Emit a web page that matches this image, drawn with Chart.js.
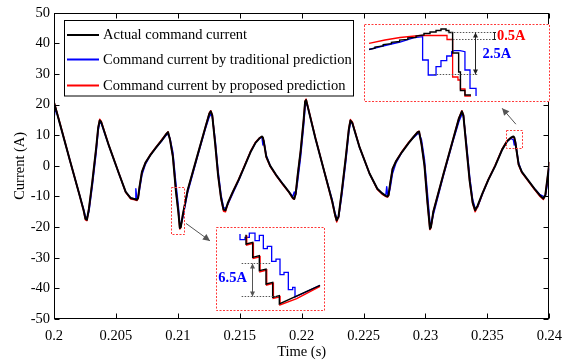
<!DOCTYPE html>
<html><head><meta charset="utf-8">
<script src="https://cdn.jsdelivr.net/npm/chart.js@4.4.1/dist/chart.umd.min.js"></script>
<style>
html,body{margin:0;padding:0;background:#fff;}
#wrap{position:relative;width:570px;height:364px;overflow:hidden;}
#main{position:absolute;left:0;top:0;}
.inset{position:absolute;}
</style></head><body>
<div id="wrap"><canvas id="main" width="570" height="364"></canvas><canvas id="ins1" class="inset"></canvas><canvas id="ins2" class="inset"></canvas></div>
<script>
// ---------- data (main plot) ----------
const time = [
0.20000,0.20012,0.20048,0.20127,0.20206,0.20238,0.20254,0.20266,0.20282,0.20310,
0.20341,0.20357,0.20369,0.20381,0.20444,0.20524,0.20579,0.20619,0.20655,0.20661,
0.20669,0.20679,0.20690,0.20710,0.20738,0.20778,0.20825,0.20873,0.20905,0.20921,
0.20937,0.20960,0.20984,0.21004,0.21016,0.21024,0.21040,0.21079,0.21159,0.21222,
0.21254,0.21266,0.21278,0.21302,0.21325,0.21349,0.21369,0.21385,0.21405,0.21444,
0.21492,0.21540,0.21587,0.21627,0.21659,0.21679,0.21687,0.21694,0.21714,0.21746,
0.21794,0.21849,0.21897,0.21929,0.21940,0.21952,0.21968,0.21992,0.22016,0.22028,
0.22036,0.22048,0.22111,0.22190,0.22246,0.22270,0.22283,0.22298,0.22325,0.22357,
0.22381,0.22394,0.22409,0.22468,0.22548,0.22611,0.22651,0.22679,0.22687,0.22694,
0.22702,0.22714,0.22734,0.22762,0.22810,0.22865,0.22905,0.22937,0.22948,0.22968,
0.22992,0.23016,0.23036,0.23044,0.23063,0.23143,0.23222,0.23270,0.23294,0.23306,
0.23333,0.23357,0.23381,0.23401,0.23421,0.23460,0.23508,0.23563,0.23619,0.23659,
0.23690,0.23710,0.23717,0.23725,0.23752,0.23778,0.23825,0.23881,0.23921,0.23952,
0.23968,0.23988,0.24000];
const actual = [
20.7,19.0,13.7,2.0,-9.5,-14.3,-17.3,-17.6,-14.0,-5.0,
6.0,12.5,14.8,14.3,6.5,-2.5,-8.5,-10.5,-10.9,-11.0,
-11.1,-10.5,-7.0,-2.0,1.0,3.5,6.0,8.5,10.3,11.0,
8.5,3.0,-8.0,-15.0,-20.3,-20.0,-16.0,-8.0,3.5,12.5,
17.0,17.8,16.5,7.0,-3.0,-10.5,-14.3,-14.5,-12.0,-8.5,
-4.5,0.0,4.5,7.5,9.0,9.6,9.2,8.0,3.0,0.0,
-3.0,-6.0,-8.5,-10.5,-10.8,-9.0,-3.0,5.0,15.0,21.0,
21.5,19.5,9.0,-3.0,-11.5,-16.0,-17.8,-16.5,-8.0,3.0,
12.0,14.8,14.0,6.0,-2.5,-7.5,-9.0,-9.8,-9.9,-10.0,
-9.5,-6.0,-1.0,1.5,4.5,7.5,9.5,11.0,11.2,7.0,
0.0,-12.0,-20.5,-20.0,-15.0,-3.0,8.5,15.5,17.8,16.5,
5.0,-5.0,-12.0,-14.5,-13.0,-9.0,-4.5,0.0,5.3,8.0,
9.2,9.6,9.3,7.8,0.5,-2.0,-4.5,-7.5,-9.5,-10.7,
-9.5,-3.0,1.0];
const traditional = [
15.5,19.0,13.7,2.0,-9.5,-14.0,-16.5,-17.0,-15.0,-6.5,
4.5,11.5,14.0,14.0,6.5,-2.5,-8.5,-10.5,-10.9,-7.5,
-10.8,-10.5,-8.0,-3.0,0.5,3.5,6.0,8.3,10.0,10.3,
9.0,4.5,-5.5,-13.0,-19.0,-19.5,-17.0,-8.8,3.0,12.0,
16.0,16.8,16.3,8.5,-1.5,-9.5,-13.5,-14.0,-12.5,-9.0,
-4.8,0.0,4.5,7.5,9.0,9.4,6.8,8.2,3.5,0.0,
-3.0,-6.0,-8.5,-10.0,-8.5,-9.5,-5.0,3.0,13.0,19.0,
20.5,19.5,9.0,-3.0,-11.0,-15.5,-17.0,-17.0,-9.5,1.5,
11.0,14.0,14.0,6.0,-2.5,-7.5,-9.0,-9.8,-6.8,-9.5,
-9.5,-7.5,-2.5,1.0,4.5,7.5,9.3,10.5,10.6,8.5,
2.0,-9.0,-18.5,-19.8,-16.0,-3.5,8.0,14.5,16.8,16.5,
6.5,-3.5,-11.0,-13.8,-13.5,-9.3,-4.5,0.0,5.3,8.0,
9.0,8.5,6.8,8.3,1.0,-2.0,-4.5,-7.5,-9.3,-10.0,
-10.0,-5.0,-1.0];
const proposed = [
20.9,19.2,13.9,2.0,-9.5,-14.5,-17.6,-17.9,-14.0,-5.0,
6.0,12.5,15.2,14.6,6.6,-2.4,-8.6,-10.8,-11.1,-11.2,
-11.3,-10.7,-7.0,-2.0,1.0,3.7,6.2,8.7,10.4,11.1,
8.5,3.0,-8.0,-15.0,-20.6,-20.2,-16.0,-8.0,3.5,12.5,
17.2,18.0,16.7,7.0,-3.0,-10.7,-14.8,-15.0,-12.2,-8.5,
-4.3,0.2,4.7,7.7,9.1,9.5,9.2,8.0,2.8,-0.2,
-3.2,-6.2,-8.6,-10.7,-10.9,-9.0,-3.0,5.0,15.0,21.2,
21.8,19.7,9.2,-3.0,-11.7,-16.3,-18.3,-16.7,-8.0,3.0,
12.2,15.1,14.3,6.1,-2.5,-7.7,-9.3,-10.0,-10.1,-10.2,
-9.7,-6.0,-1.0,1.5,4.7,7.7,9.6,11.1,11.3,7.0,
0.0,-12.0,-20.8,-20.2,-15.0,-3.0,8.5,15.6,18.0,16.7,
5.0,-5.0,-12.3,-15.0,-13.3,-9.0,-4.4,0.2,5.5,8.2,
9.2,9.4,9.2,7.8,0.3,-2.2,-4.7,-7.7,-9.8,-11.0,
-9.5,-3.0,1.0];

const xTicks = [0.2,0.205,0.21,0.215,0.22,0.225,0.23,0.235,0.24];
const xTickLabels = ['0.2','0.205','0.21','0.215','0.22','0.225','0.23','0.235','0.24'];
const yTicks = [-50,-40,-30,-20,-10,0,10,20,30,40,50];
const yTickLabels = ['-50','-40','-30','-20','-10','0','10','20','30','40','50'];
const seriesNames = ['Actual command current','Command current by traditional prediction','Command current by proposed prediction'];
const xTitle = 'Time (s)';
const yTitle = 'Current (A)';

// ---------- data (zoom insets) ----------
// inset 1: time offset (µs from 236.5 ms), current (A)
const ins1ActualX = [37,80,80,140,140,200,200,260,260,320,320,380,380,438,438,482,482,526,526,562,562,599,599,620,620,647,647,691,691,704,704,737,737,781];
const ins1ActualY = [8.48,8.55,8.62,8.68,8.76,8.82,8.90,8.95,9.03,9.08,9.16,9.20,9.28,9.34,9.43,9.43,9.52,9.52,9.61,9.61,9.70,9.70,9.61,9.61,9.49,9.49,8.26,8.26,7.12,7.12,6.01,6.01,5.74,5.74];
const ins1TradX = [37,153,263,372,428,428,469,469,526,526,562,562,604,604,640,640,659,701,737,737,774,774,818,818];
const ins1TradY = [8.47,8.71,8.92,9.19,9.24,7.84,7.84,6.94,6.94,7.44,7.44,7.80,7.80,8.08,8.08,8.34,8.40,8.40,8.34,7.24,7.24,6.14,6.14,5.68];
const ins1PropX = [37,153,263,409,606,606,647,647,686,686,704,704,737,737,781];
const ins1PropY = [8.84,9.04,9.19,9.31,9.31,9.07,9.07,6.82,6.82,6.64,6.64,6.10,6.10,5.68,5.68];
// inset 2: time offset (µs from 209.7 ms), current (A)
const ins2ActualX = [225,225,275,275,325,325,375,375,425,425,475,475,780];
const ins2ActualY = [-6.80,-8.62,-8.30,-11.22,-10.90,-13.82,-13.50,-16.42,-16.10,-19.02,-18.70,-20.32,-16.68];
const ins2TradX = [180,180,217.5,217.5,250,250,292.5,292.5,325,325,355,355,385,385,417.5,417.5,450,450,480,480,510,510,542.5,542.5,575,575,592.5,592.5,780];
const ins2TradY = [-6.67,-7.78,-7.78,-7.32,-7.32,-6.48,-6.48,-7.97,-7.97,-6.93,-6.93,-9.53,-9.53,-9.08,-9.08,-12.0,-12.0,-11.55,-11.55,-14.6,-14.6,-14.15,-14.15,-17.53,-17.53,-17.07,-17.07,-18.96,-16.68];
const ins2PropX = [230,230,280,280,330,330,380,380,430,430,480,480,605,780];
const ins2PropY = [-6.93,-8.82,-8.49,-11.42,-11.09,-14.02,-13.69,-16.62,-16.29,-19.22,-18.89,-20.52,-19.28,-16.88];
const ins1Labels = ['0.5A','2.5A'];
const ins2Labels = ['6.5A'];

// ---------- drawing ----------
const FONT = '"Liberation Serif","Times New Roman",Times,serif';
const BLACK = '#000000', BLUE = '#0000ff', RED = '#ff0000';
const pts = (xs, ys) => xs.map((v, i) => ({x: v, y: ys[i]}));

function arrowHead(ctx, x1, y1, x2, y2, len, half) {
  const a = Math.atan2(y2 - y1, x2 - x1);
  ctx.beginPath();
  ctx.moveTo(x2, y2);
  ctx.lineTo(x2 - len * Math.cos(a) + half * Math.sin(a), y2 - len * Math.sin(a) - half * Math.cos(a));
  ctx.lineTo(x2 - len * Math.cos(a) - half * Math.sin(a), y2 - len * Math.sin(a) + half * Math.cos(a));
  ctx.closePath();
  ctx.fill();
}
function arrow(ctx, x1, y1, x2, y2, color, len, half, both) {
  ctx.save();
  ctx.strokeStyle = color; ctx.fillStyle = color; ctx.lineWidth = 1;
  ctx.beginPath(); ctx.moveTo(x1, y1); ctx.lineTo(x2, y2); ctx.stroke();
  arrowHead(ctx, x1, y1, x2, y2, len, half);
  if (both) arrowHead(ctx, x2, y2, x1, y1, len, half);
  ctx.restore();
}
function dotted(ctx, x1, y1, x2, y2, color) {
  ctx.save(); ctx.strokeStyle = color; ctx.lineWidth = 1; ctx.setLineDash([1.5, 1.5]);
  ctx.beginPath(); ctx.moveTo(x1, y1); ctx.lineTo(x2, y2); ctx.stroke(); ctx.restore();
}

const framePlugin = {
  id: 'frame',
  afterDraw(chart) {
    const {ctx, chartArea: a} = chart;
    const x = chart.scales.x, y = chart.scales.y;
    ctx.save();
    const L = Math.round(a.left) + 0.5, R = Math.round(a.right) - 0.5;
    const T = Math.round(a.top) + 0.5, B = Math.round(a.bottom) - 0.5;
    ctx.strokeStyle = '#000'; ctx.lineWidth = 1;
    ctx.strokeRect(L, T, R - L, B - T);
    ctx.beginPath();
    xTicks.forEach(v => { const p = Math.round(x.getPixelForValue(v)) + 0.5; ctx.moveTo(p, B); ctx.lineTo(p, B - 5); ctx.moveTo(p, T); ctx.lineTo(p, T + 5); });
    yTicks.forEach(v => { const p = Math.round(y.getPixelForValue(v)) + 0.5; ctx.moveTo(L, p); ctx.lineTo(L + 5, p); ctx.moveTo(R, p); ctx.lineTo(R - 5, p); });
    ctx.stroke();
    // axis titles
    ctx.fillStyle = '#000'; ctx.font = '14.5px ' + FONT; ctx.textAlign = 'center'; ctx.textBaseline = 'middle';
    ctx.fillText(xTitle, (a.left + a.right) / 2, 352);
    ctx.save(); ctx.translate(20, (a.top + a.bottom) / 2); ctx.rotate(-Math.PI / 2); ctx.fillText(yTitle, 0, 0); ctx.restore();
    // small zoom boxes
    ctx.save(); ctx.strokeStyle = '#ff3a3a'; ctx.lineWidth = 1; ctx.setLineDash([2, 1.5]);
    const bx = [[0.20946, 0.21046, -7.0, -22.3], [0.23651, 0.23783, 11.8, 5.8]];
    bx.forEach(b => {
      const x1 = Math.round(x.getPixelForValue(b[0])) + 0.5, x2 = Math.round(x.getPixelForValue(b[1])) + 0.5;
      const y1 = Math.round(y.getPixelForValue(b[2])) + 0.5, y2 = Math.round(y.getPixelForValue(b[3])) + 0.5;
      ctx.strokeRect(x1, y1, x2 - x1, y2 - y1);
    });
    ctx.restore();
    // pointer arrows
    arrow(ctx, x.getPixelForValue(0.21066), y.getPixelForValue(-18.8), x.getPixelForValue(0.21260), y.getPixelForValue(-24.5), '#555', 7, 3.5, false);
    arrow(ctx, x.getPixelForValue(0.23730), y.getPixelForValue(13.6), x.getPixelForValue(0.23619), y.getPixelForValue(18.8), '#555', 7, 3.5, false);
    // legend
    const lx = 64.5, ly = 20.5, lw = 289, lh = 75.5;
    ctx.fillStyle = '#fff'; ctx.fillRect(lx, ly, lw, lh);
    ctx.strokeStyle = '#000'; ctx.lineWidth = 1; ctx.strokeRect(lx, ly, lw, lh);
    const rows = [35, 59.5, 85.5], cols = [BLACK, BLUE, RED];
    ctx.font = '14.5px ' + FONT; ctx.textAlign = 'left'; ctx.textBaseline = 'middle';
    rows.forEach((ry, i) => {
      ctx.strokeStyle = cols[i]; ctx.lineWidth = 2;
      ctx.beginPath(); ctx.moveTo(67, ry); ctx.lineTo(99, ry); ctx.stroke();
      ctx.fillStyle = '#000'; ctx.fillText(seriesNames[i], 103, ry + 0.5);
    });
    ctx.restore();
  }
};

new Chart(document.getElementById('main'), {
  type: 'line',
  data: { datasets: [
    { label: seriesNames[0], data: pts(time, actual), borderColor: BLACK, borderWidth: 2, order: 0 },
    { label: seriesNames[1], data: pts(time, traditional), borderColor: BLUE, borderWidth: 1.4, order: 2 },
    { label: seriesNames[2], data: pts(time, proposed), borderColor: RED, borderWidth: 1.5, order: 1 }
  ]},
  options: {
    responsive: false, animation: false, devicePixelRatio: 1, events: [],
    elements: { point: { radius: 0 }, line: { tension: 0, borderJoinStyle: 'round', borderCapStyle: 'round' } },
    layout: { padding: { top: 12, right: 12, left: 0, bottom: 0 } },
    plugins: { legend: { display: false }, tooltip: { enabled: false } },
    scales: {
      x: { type: 'linear', min: 0.2, max: 0.24,
        afterBuildTicks: s => { s.ticks = xTicks.map(v => ({ value: v })); },
        afterFit: s => { s.height = 45; },
        grid: { display: false, drawTicks: false }, border: { display: false },
        ticks: { callback: v => xTickLabels[xTicks.indexOf(v)], font: { family: FONT, size: 14.5 }, color: '#000', padding: 8, maxRotation: 0, autoSkip: false }
      },
      y: { type: 'linear', min: -50, max: 50,
        afterBuildTicks: s => { s.ticks = yTicks.map(v => ({ value: v })); },
        afterFit: s => { s.width = 54; },
        grid: { display: false, drawTicks: false }, border: { display: false },
        ticks: { callback: v => yTickLabels[yTicks.indexOf(v)], font: { family: FONT, size: 14.5 }, color: '#000', padding: 4, autoSkip: false }
      }
    }
  },
  plugins: [framePlugin]
});

function makeInset(id, box, xr, yr, series, annotate) {
  const cv = document.getElementById(id);
  cv.width = box.w; cv.height = box.h; cv.style.left = box.x + 'px'; cv.style.top = box.y + 'px';
  return new Chart(cv, {
    type: 'line',
    data: { datasets: series.map(s => ({ data: pts(s.x, s.y), borderColor: s.color, borderWidth: s.w, order: s.order, pointRadius: 0, tension: 0 })) },
    options: {
      responsive: false, animation: false, devicePixelRatio: 1, events: [],
      layout: { padding: 0 },
      plugins: { legend: { display: false }, tooltip: { enabled: false } },
      scales: { x: { type: 'linear', display: false, min: xr[0], max: xr[1] }, y: { type: 'linear', display: false, min: yr[0], max: yr[1] } }
    },
    plugins: [{
      id: 'insetDeco',
      beforeDraw(c) { c.ctx.save(); c.ctx.fillStyle = '#fff'; c.ctx.fillRect(0, 0, c.width, c.height); c.ctx.restore(); },
      afterDraw(c) {
        const ctx = c.ctx; ctx.save();
        annotate(c, ctx, c.scales.x, c.scales.y);
        ctx.strokeStyle = '#ff3a3a'; ctx.lineWidth = 1; ctx.setLineDash([2, 1.5]);
        ctx.strokeRect(0.5, 0.5, c.width - 1, c.height - 1);
        ctx.restore();
      }
    }]
  });
}

makeInset('ins1', { x: 364, y: 24, w: 186, h: 78 }, [0, 1358], [5.32, 10], [
  { x: ins1TradX, y: ins1TradY, color: BLUE, w: 1.3, order: 2 },
  { x: ins1PropX, y: ins1PropY, color: RED, w: 1.3, order: 1 },
  { x: ins1ActualX, y: ins1ActualY, color: BLACK, w: 1.4, order: 0 }
], (c, ctx, X, Y) => {
  const px = v => X.getPixelForValue(v), py = v => Math.round(Y.getPixelForValue(v)) + 0.5;
  dotted(ctx, px(612), py(9.50), px(956), py(9.50), '#555');
  dotted(ctx, px(628), py(9.10), px(956), py(9.10), '#555');
  dotted(ctx, px(509), py(7.00), px(832), py(7.00), '#555');
  arrow(ctx, Math.round(px(813)) + 0.5, py(9.50), Math.round(px(813)) + 0.5, py(7.00), '#222', 5, 2.5, true);
  const mx = Math.round(px(946)) + 0.5;
  ctx.strokeStyle = '#222'; ctx.lineWidth = 1; ctx.beginPath();
  ctx.moveTo(mx, py(9.50)); ctx.lineTo(mx, py(9.10));
  ctx.moveTo(mx - 1.5, py(9.50)); ctx.lineTo(mx + 1.5, py(9.50));
  ctx.moveTo(mx - 1.5, py(9.10)); ctx.lineTo(mx + 1.5, py(9.10)); ctx.stroke();
  ctx.font = 'bold 14.5px ' + FONT; ctx.textAlign = 'left'; ctx.textBaseline = 'middle';
  ctx.fillStyle = RED; ctx.fillText(ins1Labels[0], px(971), Y.getPixelForValue(9.24));
  ctx.fillStyle = BLUE; ctx.fillText(ins1Labels[1], px(866), Y.getPixelForValue(8.18));
});

makeInset('ins2', { x: 216, y: 227, w: 109, h: 84 }, [0, 817.5], [-21.685, -5.305], [
  { x: ins2TradX, y: ins2TradY, color: BLUE, w: 1.3, order: 2 },
  { x: ins2PropX, y: ins2PropY, color: RED, w: 1.5, order: 1 },
  { x: ins2ActualX, y: ins2ActualY, color: BLACK, w: 1.4, order: 0 }
], (c, ctx, X, Y) => {
  const px = v => X.getPixelForValue(v), py = v => Math.round(Y.getPixelForValue(v)) + 0.5;
  dotted(ctx, px(192.5), py(-12.33), px(417.5), py(-12.33), '#555');
  dotted(ctx, px(192.5), py(-18.83), px(467.5), py(-18.83), '#555');
  arrow(ctx, Math.round(px(267.5)) + 0.5, py(-12.33), Math.round(px(267.5)) + 0.5, py(-18.83), '#555', 5, 2.5, true);
  ctx.font = 'bold 14.5px ' + FONT; ctx.textAlign = 'right'; ctx.textBaseline = 'middle';
  ctx.fillStyle = BLUE; ctx.fillText(ins2Labels[0], px(232), Y.getPixelForValue(-15.25));
});
</script>
</body></html>
